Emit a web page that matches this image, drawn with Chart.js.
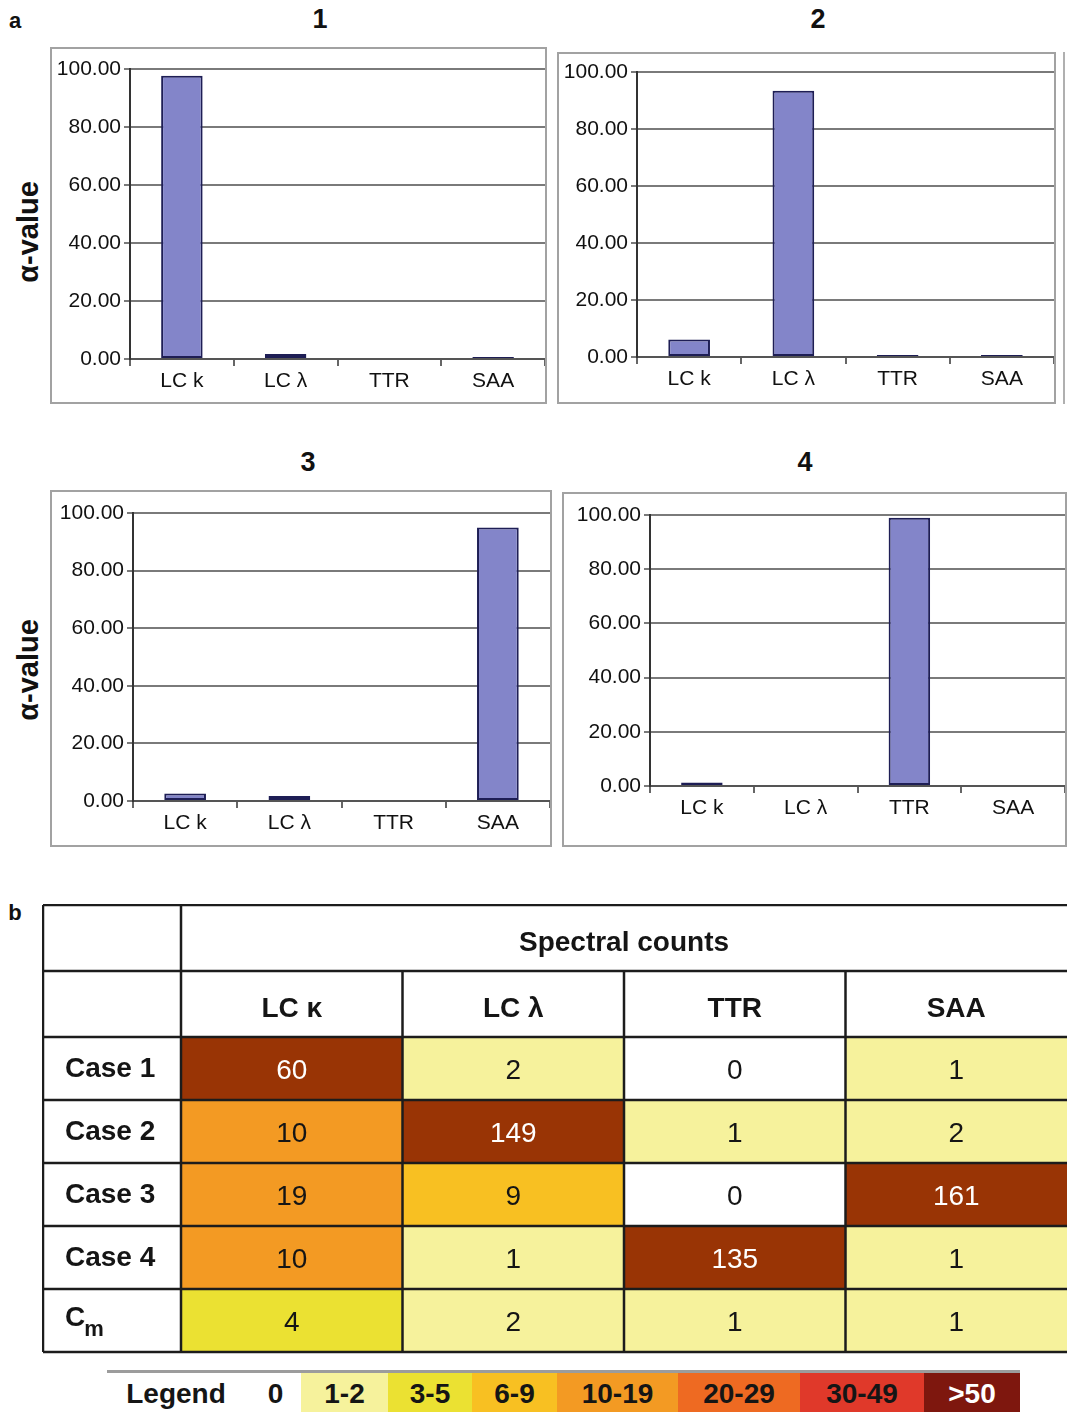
<!DOCTYPE html>
<html>
<head>
<meta charset="utf-8">
<script src="https://cdn.jsdelivr.net/npm/chart.js@4.4.1/dist/chart.umd.min.js"></script>
<style>
  body { margin: 0; background: #fff; font-family: "Liberation Sans", Arial, sans-serif; }
  #page { position: relative; width: 1067px; height: 1412px; overflow: hidden; background: #fff; }
  .lbl { position: absolute; font-weight: bold; color: #111; white-space: nowrap; transform: translate(-50%, -50%); }
  .frame { position: absolute; border: 2px solid #a2a2a2; box-sizing: border-box; }
  .frame canvas { position: absolute; left: 0; top: 0; }
  .ylab { position: absolute; font-weight: bold; font-size: 29px; color: #111; white-space: nowrap;
          transform: translate(-50%, -50%) rotate(-90deg); }
  #legend { position: absolute; left: 107px; top: 1370px; width: 913px; height: 42px;
            border-top: 3px solid #9c9c9c; }
  .seg { position: absolute; top: 0; bottom: 0; display: flex; align-items: center; justify-content: center;
         font-weight: bold; font-size: 28px; color: #151515; }
</style>
</head>
<body>
<div id="page">
  <div class="lbl" style="left:15px;top:21px;font-size:22px">a</div>
  <div class="lbl" style="left:15px;top:913px;font-size:22px">b</div>

  <div class="lbl" style="left:320px;top:19px;font-size:27px">1</div>
  <div class="lbl" style="left:818px;top:19px;font-size:27px">2</div>
  <div class="lbl" style="left:308px;top:462px;font-size:27px">3</div>
  <div class="lbl" style="left:805px;top:462px;font-size:27px">4</div>

  <div class="ylab" style="left:28px;top:232px">α-value</div>
  <div class="ylab" style="left:28px;top:670px">α-value</div>

  <div class="frame" style="left:50px;top:47px;width:497px;height:357px"><canvas id="c1" width="493" height="353"></canvas></div>
  <div class="frame" style="left:557px;top:52px;width:499px;height:352px"><canvas id="c2" width="495" height="348"></canvas></div>
  <div class="frame" style="left:50px;top:490px;width:502px;height:357px"><canvas id="c3" width="498" height="353"></canvas></div>
  <div class="frame" style="left:562px;top:492px;width:505px;height:355px"><canvas id="c4" width="501" height="351"></canvas></div>
  <div style="position:absolute;left:1063px;top:52px;width:2px;height:352px;background:#b0b0b0"></div>

  <canvas id="table" width="1025" height="450" style="position:absolute;left:42px;top:904px"></canvas>

  <div id="legend"></div>
</div>

<script>
// alpha-values per protein for the four cases
const proteins = ["LC k", "LC λ", "TTR", "SAA"];
const alphaCase1 = [97.7, 1.7, 0, 0.7];
const alphaCase2 = [6.1, 93.4, 0.7, 0.7];
const alphaCase3 = [2.6, 1.7, 0, 95.0];
const alphaCase4 = [1.3, 0, 99.0, 0];
const alphaTicks = [0, 20, 40, 60, 80, 100];

// spectral counts table
const countColumns = ["LC κ", "LC λ", "TTR", "SAA"];
const countRows = ["Case 1", "Case 2", "Case 3", "Case 4", "Cm"];
const countsCase1 = [60, 2, 0, 1];
const countsCase2 = [10, 149, 1, 2];
const countsCase3 = [19, 9, 0, 161];
const countsCase4 = [10, 1, 135, 1];
const countsCm = [4, 2, 1, 1];
const countTable = [countsCase1, countsCase2, countsCase3, countsCase4, countsCm];

// colour key
const legendLabels = ["0", "1-2", "3-5", "6-9", "10-19", "20-29", "30-49", ">50"];
const legendMins = [0, 1, 3, 6, 10, 20, 30, 50];
const legendColors = ["#ffffff", "#f6f29c", "#ebe132", "#f8c022", "#f39a23", "#ee6a22", "#e0392a", "#7e170e"];
const cellHighColor = "#993405";

Chart.defaults.font.family = "'Liberation Sans', Arial, sans-serif";
Chart.defaults.color = "#111";

function alphaChart(id, values, box) {
  new Chart(document.getElementById(id), {
    type: "bar",
    data: {
      labels: proteins,
      datasets: [{
        data: values,
        backgroundColor: "#8385c9",
        borderColor: "#1e1e55",
        borderWidth: 2,
        borderSkipped: false,
        barPercentage: 0.4,
        categoryPercentage: 1
      }]
    },
    options: {
      responsive: false,
      animation: false,
      layout: { padding: { top: box.padTop, right: 0, left: 0, bottom: 0 } },
      plugins: { legend: { display: false }, tooltip: { enabled: false } },
      scales: {
        x: {
          grid: { drawOnChartArea: false, offset: true, tickLength: 7, color: "#666", lineWidth: 2 },
          border: { color: "#555", width: 2 },
          ticks: { font: { size: 21 }, padding: 3 },
          afterFit: s => { s.height = box.xAxisH; }
        },
        y: {
          min: 0, max: 100,
          afterBuildTicks: s => { s.ticks = alphaTicks.map(v => ({ value: v })); },
          ticks: { font: { size: 21 }, padding: 3, callback: v => v.toFixed(2) },
          grid: { color: "#7a7a7a", lineWidth: 2, tickLength: 6 },
          border: { color: "#333", width: 2 },
          afterFit: s => { s.width = box.yAxisW; }
        }
      }
    }
  });
}

alphaChart("c1", alphaCase1, { yAxisW: 78, padTop: 20, xAxisH: 43 });
alphaChart("c2", alphaCase2, { yAxisW: 78, padTop: 18, xAxisH: 45 });
alphaChart("c3", alphaCase3, { yAxisW: 81, padTop: 21, xAxisH: 44 });
alphaChart("c4", alphaCase4, { yAxisW: 86, padTop: 21, xAxisH: 59 });

function countColor(n) {
  if (n >= 50) return cellHighColor;
  let c = legendColors[0];
  legendMins.forEach((m, i) => { if (n >= m) c = legendColors[i]; });
  return c;
}

// headers, row names, grid lines and cell numbers of the table
const tablePlugin = {
  id: "tableDecor",
  afterDatasetsDraw(chart) {
    const { ctx, chartArea: a, scales: { x, y } } = chart;
    const half = (x.getPixelForValue(1) - x.getPixelForValue(0)) / 2;
    const top = 1, headerSplit = 67;
    ctx.save();

    // cell numbers
    ctx.textAlign = "center";
    ctx.textBaseline = "middle";
    ctx.font = "28px 'Liberation Sans', Arial, sans-serif";
    chart.data.datasets.forEach((ds, i) => {
      chart.getDatasetMeta(i).data.forEach((bar, j) => {
        const n = countTable[i][j];
        ctx.fillStyle = n >= 50 ? "#fff" : "#151515";
        ctx.fillText(String(n), bar.x, (bar.y + bar.base) / 2 + 3);
      });
    });

    // headers
    ctx.fillStyle = "#151515";
    ctx.font = "bold 28px 'Liberation Sans', Arial, sans-serif";
    ctx.fillText("Spectral counts", (a.left + a.right) / 2, (top + headerSplit) / 2 + 5);
    countColumns.forEach((c, j) => {
      ctx.fillText(c, x.getPixelForValue(j), (headerSplit + a.top) / 2 + 5);
    });

    // row names
    ctx.textAlign = "left";
    countRows.forEach((r, i) => {
      const cy = (y.getPixelForValue(i) + y.getPixelForValue(i + 1)) / 2;
      if (r === "Cm") {
        ctx.font = "bold 28px 'Liberation Sans', Arial, sans-serif";
        ctx.fillText("C", 23, cy - 2);
        ctx.font = "bold 22px 'Liberation Sans', Arial, sans-serif";
        ctx.fillText("m", 23 + ctx.measureText("C").width * 28 / 22 * 0.95, cy + 9);
      } else {
        ctx.fillText(r, 23, cy + 1);
      }
    });

    // lines
    ctx.strokeStyle = "#1c1c1c";
    ctx.lineWidth = 2.5;
    const line = (x0, y0, x1, y1) => { ctx.beginPath(); ctx.moveTo(x0, y0); ctx.lineTo(x1, y1); ctx.stroke(); };
    const bottom = y.getPixelForValue(countRows.length);
    line(1, top, a.right, top);
    line(1, headerSplit, a.right, headerSplit);
    for (let i = 0; i <= countRows.length; i++) line(1, y.getPixelForValue(i), a.right, y.getPixelForValue(i));
    line(1, top, 1, bottom);
    line(a.left, top, a.left, bottom);
    for (let j = 1; j < countColumns.length; j++) {
      const px = x.getPixelForValue(j) - half;
      line(px, headerSplit, px, bottom);
    }
    ctx.restore();
  }
};

new Chart(document.getElementById("table"), {
  type: "bar",
  data: {
    labels: countColumns,
    datasets: countTable.map((row, i) => ({
      label: countRows[i],
      data: row.map(() => [i, i + 1]),
      backgroundColor: row.map(countColor),
      borderWidth: 0,
      barPercentage: 1,
      categoryPercentage: 1,
      grouped: false
    }))
  },
  options: {
    responsive: false,
    animation: false,
    layout: { padding: { left: 139, top: 133, right: 0, bottom: 2 } },
    plugins: { legend: { display: false }, tooltip: { enabled: false } },
    scales: {
      x: { display: false },
      y: { display: false, min: 0, max: countRows.length, reverse: true }
    }
  },
  plugins: [tablePlugin]
});

// colour key strip
const legendEdges = [143, 194, 281, 365, 450, 571, 693, 817, 913];
const legendEl = document.getElementById("legend");
const title = document.createElement("div");
title.className = "seg";
title.style.left = "0px";
title.style.width = "138px";
title.textContent = "Legend";
legendEl.appendChild(title);
legendLabels.forEach((l, i) => {
  const d = document.createElement("div");
  d.className = "seg";
  d.style.left = legendEdges[i] + "px";
  d.style.width = (legendEdges[i + 1] - legendEdges[i]) + "px";
  d.style.background = legendColors[i];
  if (i === legendLabels.length - 1) d.style.color = "#fff";
  d.textContent = l;
  legendEl.appendChild(d);
});
</script>
</body>
</html>
